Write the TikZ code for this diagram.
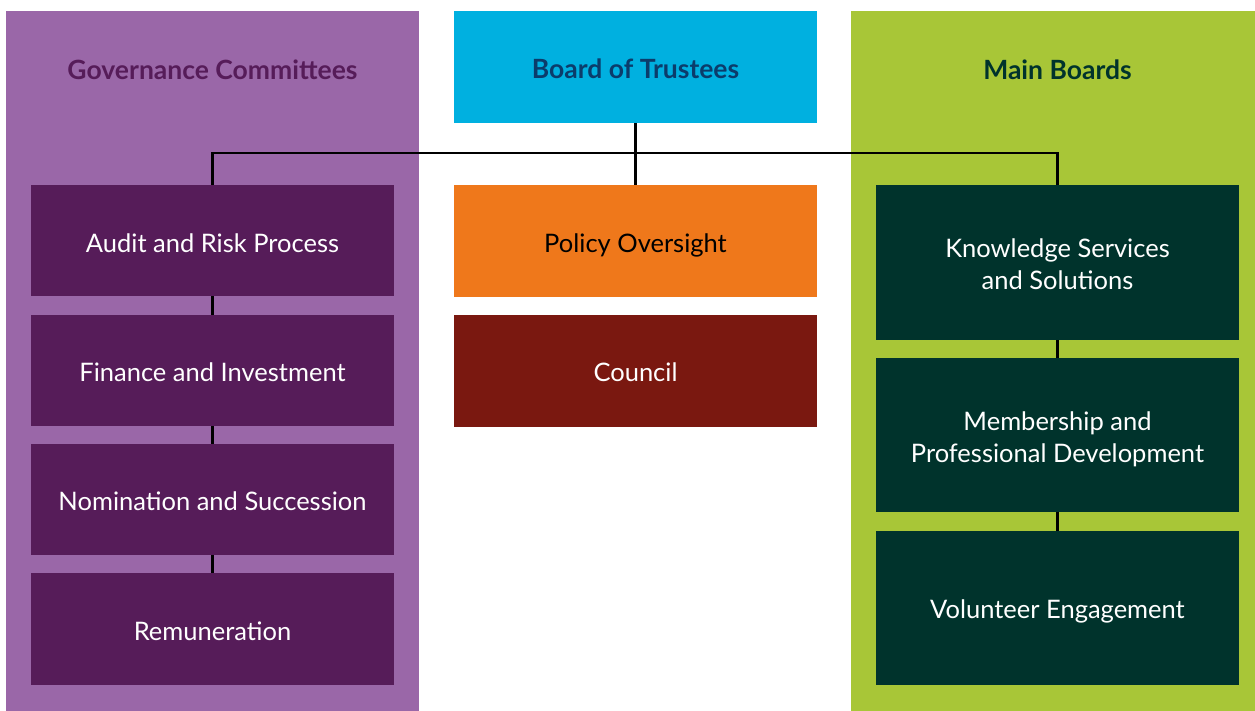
\documentclass[tikz,border=0pt]{standalone}
\usepackage{fontspec}
\setmainfont{Lato}
\definecolor{panelpurple}{HTML}{9A67A8}
\definecolor{boxpurple}{HTML}{561C59}
\definecolor{boardcyan}{HTML}{00B0E0}
\definecolor{boardtext}{HTML}{0B3C6B}
\definecolor{policyorange}{HTML}{EF781B}
\definecolor{councilred}{HTML}{7A1810}
\definecolor{panelgreen}{HTML}{A8C637}
\definecolor{boxgreen}{HTML}{00332C}
\newcommand{\lowertext}[2]{\raisebox{-#1}[\height][\depth]{#2}}
\begin{document}
\begin{tikzpicture}[x=1pt,y=-1pt,
  orgbox/.style={draw=none,inner sep=0pt,minimum width=363pt,align=center,
    font=\fontsize{25.5}{32}\selectfont},
  titletext/.style={font=\fontsize{26.5}{30}\selectfont\bfseries,inner sep=0pt},
  link/.style={line width=2.2pt,black}]
\useasboundingbox (0,0) rectangle (1255,711);
% panels
\fill[panelpurple] (6,11) rectangle (419,711);
\fill[panelgreen] (851,11) rectangle (1255,711);
\node[titletext,text=boxpurple] (govtitle) at (212.5,70) {Governance Committees};
\node[titletext,text=boxgreen] (maintitle) at (1057.5,70) {Main Boards};
% centre column
\node[orgbox,fill=boardcyan,minimum height=112pt,font=\fontsize{26.5}{30}\selectfont\bfseries,text=boardtext] (board) at (635.5,67) {\lowertext{2pt}{Board of Trustees}};
\node[orgbox,fill=policyorange,minimum height=112pt,text=black] (policy) at (635.5,241) {\lowertext{4pt}{Policy Oversight}};
\node[orgbox,fill=councilred,minimum height=112pt,text=white] (council) at (635.5,371) {\lowertext{1pt}{Council}};
% left column
\node[orgbox,fill=boxpurple,minimum height=111pt,text=white] (audit) at (212.5,240.5) {\lowertext{3pt}{Audit and Risk Process}};
\node[orgbox,fill=boxpurple,minimum height=111pt,text=white] (finance) at (212.5,370.5) {\lowertext{2pt}{Finance and Investment}};
\node[orgbox,fill=boxpurple,minimum height=111pt,text=white] (nomination) at (212.5,499.5) {\lowertext{2pt}{Nomination and Succession}};
\node[orgbox,fill=boxpurple,minimum height=112pt,text=white] (remuneration) at (212.5,629) {\lowertext{2pt}{Remuneration}};
% right column
\node[orgbox,fill=boxgreen,minimum height=155pt,text=white] (knowledge) at (1057.5,262.5) {\lowertext{5pt}{\begin{tabular}{@{}c@{}}Knowledge Services\\and Solutions\end{tabular}}};
\node[orgbox,fill=boxgreen,minimum height=154pt,text=white] (membership) at (1057.5,435) {\lowertext{5pt}{\begin{tabular}{@{}c@{}}Membership and\\Professional Development\end{tabular}}};
\node[orgbox,fill=boxgreen,minimum height=154pt,text=white] (volunteer) at (1057.5,608) {\lowertext{3pt}{Volunteer Engagement}};
% connectors
\coordinate (bus) at (635.5,153);
\draw[link] (board.south) -- (bus) -- (policy.north);
\draw[link] (audit.north) |- (bus);
\draw[link] (knowledge.north) |- (bus);
\draw[link] (audit.south) -- (finance.north);
\draw[link] (finance.south) -- (nomination.north);
\draw[link] (nomination.south) -- (remuneration.north);
\draw[link] (knowledge.south) -- (membership.north);
\draw[link] (membership.south) -- (volunteer.north);
\end{tikzpicture}
\end{document}
